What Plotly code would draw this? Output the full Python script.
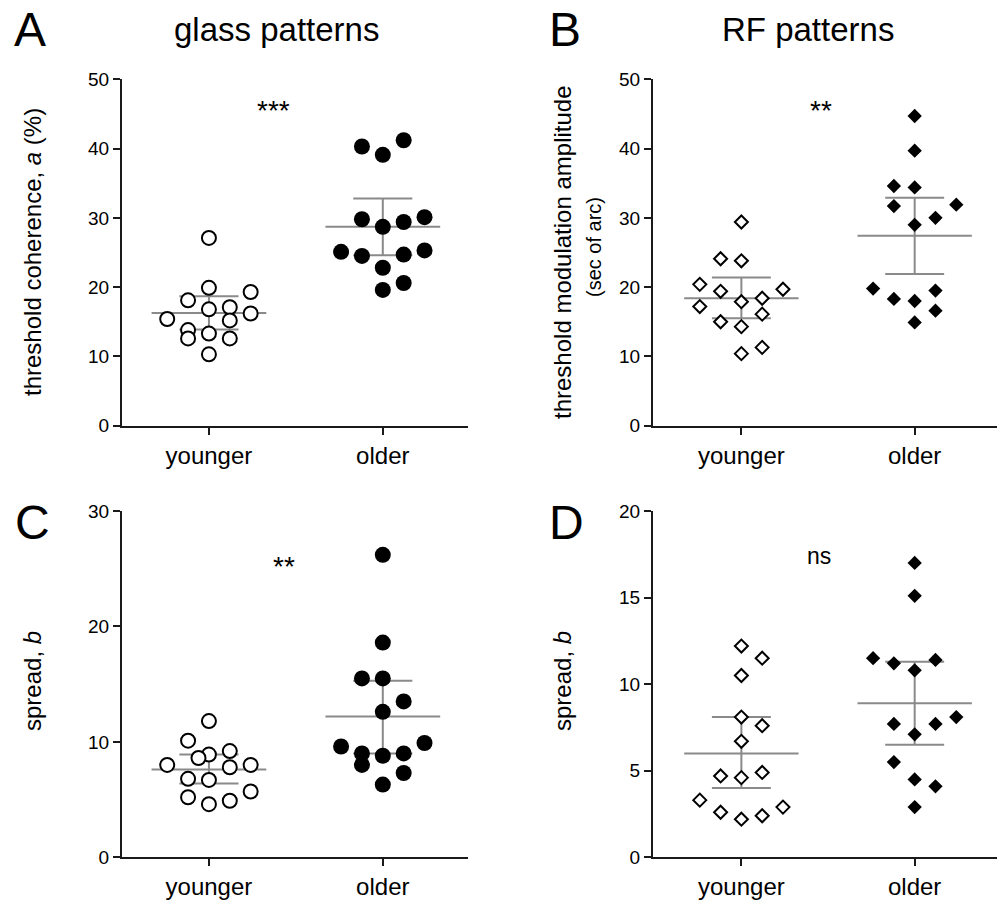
import plotly.graph_objects as go

# ---------------- data ----------------
groups = ["younger", "older"]

A_young = [27.1, 19.9, 19.3, 18.1, 16.8, 17.1, 16.2, 15.4, 15.2, 13.8, 13.3, 12.6, 12.6, 10.3]
A_young_slot = [0, 0, 2, -1, 0, 1, 2, -2, 1, -1, 0, -1, 1, 0]
A_old = [41.2, 40.3, 39.1, 29.8, 30.1, 29.4, 28.7, 25.1, 24.5, 24.7, 25.3, 22.8, 20.6, 19.6]
A_old_slot = [1, -1, 0, -1, 2, 1, 0, -2, -1, 1, 2, 0, 1, 0]
A_mean = [16.26, 28.7]
A_lo = [13.9, 24.6]
A_hi = [18.7, 32.8]

B_young = [29.4, 24.1, 23.8, 20.4, 19.7, 19.4, 17.9, 18.4, 17.2, 16.1, 15.0, 14.3, 11.3, 10.4]
B_young_slot = [0, -1, 0, -2, 2, -1, 0, 1, -2, 1, -1, 0, 1, 0]
B_old = [44.7, 39.7, 34.6, 34.4, 31.7, 31.9, 30.0, 29.0, 19.8, 19.5, 18.3, 18.0, 16.6, 14.9]
B_old_slot = [0, 0, -1, 0, -1, 2, 1, 0, -2, 1, -1, 0, 1, 0]
B_mean = [18.4, 27.4]
B_lo = [15.5, 21.9]
B_hi = [21.4, 32.9]

C_young = [11.8, 10.1, 8.9, 9.2, 8.6, 8.0, 7.8, 8.0, 6.8, 6.7, 5.7, 5.2, 4.9, 4.6]
C_young_slot = [0, -1, 0, 1, -0.5, -2, 1, 2, -1, 0, 2, -1, 1, 0]
C_old = [26.2, 18.6, 15.5, 15.5, 13.5, 12.6, 9.9, 9.6, 9.0, 8.8, 9.0, 8.0, 7.3, 6.3]
C_old_slot = [0, 0, -1, 0, 1, 0, 2, -2, -1, 0, 1, -1, 1, 0]
C_mean = [7.6, 12.2]
C_lo = [6.4, 9.0]
C_hi = [8.9, 15.3]

D_young = [12.2, 11.5, 10.5, 8.1, 7.6, 6.7, 4.7, 4.9, 4.6, 3.3, 2.9, 2.6, 2.4, 2.2]
D_young_slot = [0, 1, 0, 0, 1, 0, -1, 1, 0, -2, 2, -1, 1, 0]
D_old = [17.0, 15.1, 11.5, 11.4, 11.2, 10.8, 8.1, 7.7, 7.7, 7.1, 5.5, 4.5, 4.1, 2.9]
D_old_slot = [0, 0, -2, 1, -1, 0, 2, -1, 1, 0, -1, 0, 1, 0]
D_mean = [6.0, 8.9]
D_lo = [4.0, 6.5]
D_hi = [8.1, 11.3]

sig_labels = ["***", "**", "**", "ns"]
sig_x = [0.37, 0.46, 0.43, 0.45]
sig_y = [45.5, 45.5, 25.2, 17.4]

y_ranges = [50, 50, 30, 20]
y_dticks = [10, 10, 10, 5]

# ---------------- styling ----------------
FONT = "Liberation Sans, Arial, Helvetica, sans-serif"
SLOT = 0.12
MEAN_HW = 0.33
CAP_HW = 0.17
BAR_COLOR = "#8a8a8a"

fig = go.Figure()

panels = [
    (A_young, A_young_slot, A_old, A_old_slot, A_mean, A_lo, A_hi, "circle"),
    (B_young, B_young_slot, B_old, B_old_slot, B_mean, B_lo, B_hi, "diamond"),
    (C_young, C_young_slot, C_old, C_old_slot, C_mean, C_lo, C_hi, "circle"),
    (D_young, D_young_slot, D_old, D_old_slot, D_mean, D_lo, D_hi, "diamond"),
]

H = 904.0
W = 997.0
x_domains = [[122 / W, 468 / W], [653 / W, 1.0], [122 / W, 468 / W], [653 / W, 1.0]]
y_domains = [[(H - 425.7) / H, (H - 79.3) / H], [(H - 425.7) / H, (H - 79.3) / H],
             [(H - 857.3) / H, (H - 511) / H], [(H - 857.3) / H, (H - 511) / H]]
x_ranges = [[-0.5, 1.49], [-0.51, 1.475], [-0.5, 1.49], [-0.51, 1.475]]

for i, (yv, ys, ov, os_, mean, lo, hi, sym) in enumerate(panels):
    xa = "x" if i == 0 else f"x{i+1}"
    ya = "y" if i == 0 else f"y{i+1}"
    # error bars (mean line + CI whisker)
    ex, ey = [], []
    for g in range(2):
        ex += [g - MEAN_HW, g + MEAN_HW, None, g, g, None,
               g - CAP_HW, g + CAP_HW, None, g - CAP_HW, g + CAP_HW, None]
        ey += [mean[g], mean[g], None, lo[g], hi[g], None,
               lo[g], lo[g], None, hi[g], hi[g], None]
    fig.add_trace(go.Scatter(x=ex, y=ey, mode="lines", xaxis=xa, yaxis=ya,
                             line=dict(color=BAR_COLOR, width=2), hoverinfo="skip",
                             showlegend=False))
    if sym == "circle":
        open_m = dict(symbol="circle", size=14, color="white", line=dict(color="black", width=2))
        fill_m = dict(symbol="circle", size=16, color="black", line=dict(width=0))
    else:
        open_m = dict(symbol="diamond", size=10, color="white", line=dict(color="black", width=2))
        fill_m = dict(symbol="diamond", size=11, color="black", line=dict(width=0))
    fig.add_trace(go.Scatter(x=[0 + s * SLOT for s in ys], y=yv, mode="markers",
                             xaxis=xa, yaxis=ya, marker=open_m, showlegend=False))
    fig.add_trace(go.Scatter(x=[1 + s * SLOT for s in os_], y=ov, mode="markers",
                             xaxis=xa, yaxis=ya, marker=fill_m, showlegend=False))

    axis_common = dict(showline=True, linecolor="#1a1a1a", linewidth=2, showgrid=False,
                       zeroline=False, ticks="outside", tickcolor="#1a1a1a", tickwidth=2,
                       ticklen=7, automargin=False)
    xkey = "xaxis" if i == 0 else f"xaxis{i+1}"
    ykey = "yaxis" if i == 0 else f"yaxis{i+1}"
    fig.update_layout(**{
        xkey: dict(domain=x_domains[i], range=x_ranges[i], anchor=ya,
                   tickvals=[0, 1], ticktext=groups,
                   tickfont=dict(family=FONT, size=24, color="black"), **axis_common),
        ykey: dict(domain=y_domains[i], range=[0, y_ranges[i]], anchor=xa,
                   dtick=y_dticks[i], tick0=0,
                   tickfont=dict(family=FONT, size=19, color="black"), **axis_common),
    })
    fig.add_annotation(x=sig_x[i], y=sig_y[i], xref=xa, yref=ya, text=sig_labels[i],
                       showarrow=False, xanchor="center", yanchor="middle",
                       font=dict(family=FONT, size=28 if sig_labels[i] != "ns" else 23,
                                 color="black"))

# panel letters
letters = [("A", 12, 29.5), ("B", 547, 29.5), ("C", 13, 522), ("D", 547, 522)]
for t, px, py in letters:
    fig.add_annotation(x=px / W, y=(H - py) / H, xref="paper", yref="paper", text=t,
                       showarrow=False, xanchor="left", yanchor="middle",
                       font=dict(family=FONT, size=48, color="black"))

# column titles
for t, px in [("glass patterns", 276), ("RF patterns", 808)]:
    fig.add_annotation(x=px / W, y=(H - 30) / H, xref="paper", yref="paper", text=t,
                       showarrow=False, xanchor="center", yanchor="middle",
                       font=dict(family=FONT, size=33, color="black"))

# y-axis titles
ytitles = [
    ("threshold coherence, <i>a</i> (%)", 32, 252, 24),
    ("threshold modulation amplitude", 562, 252, 24),
    ("(sec of arc)", 594, 247, 20),
    ("spread, <i>b</i>", 32, 681, 24),
    ("spread, <i>b</i>", 562, 681, 24),
]
for t, px, py, fs in ytitles:
    fig.add_annotation(x=px / W, y=(H - py) / H, xref="paper", yref="paper", text=t,
                       showarrow=False, xanchor="center", yanchor="middle", textangle=-90,
                       font=dict(family=FONT, size=fs, color="black"))

fig.update_layout(template="none", width=997, height=904,
                  margin=dict(l=0, r=0, t=0, b=0, pad=0, autoexpand=False),
                  paper_bgcolor="white", plot_bgcolor="white",
                  font=dict(family=FONT, color="black"))

fig.write_html("out.html", config={"displayModeBar": False},
               post_script="document.body.style.margin='0';"
                           "document.documentElement.style.margin='0';"
                           "document.body.style.overflow='hidden';")
